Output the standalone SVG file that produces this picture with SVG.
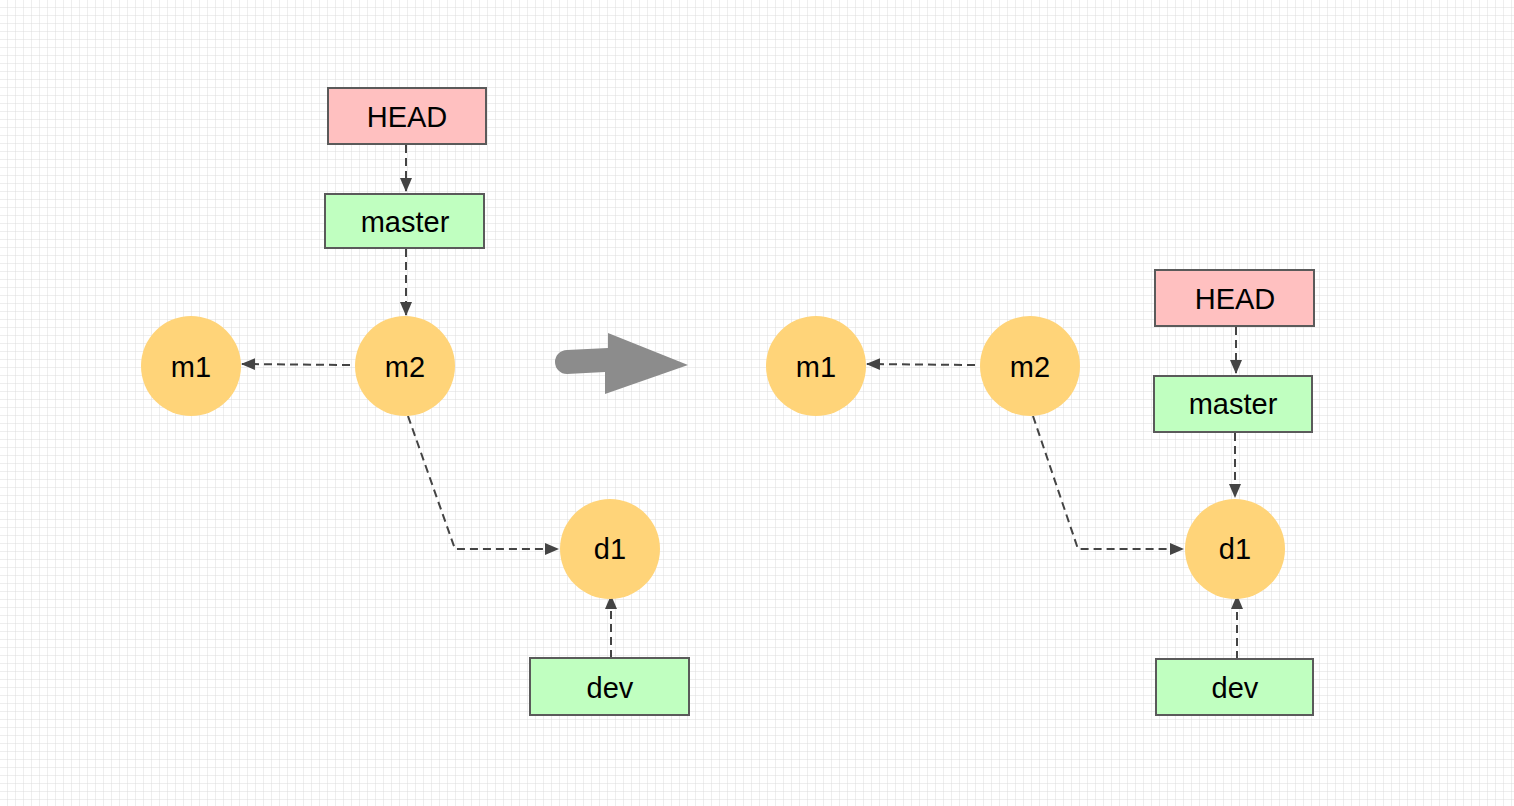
<svg xmlns="http://www.w3.org/2000/svg" width="1514" height="806" viewBox="0 0 1514 806">
<defs>
<pattern id="grid" width="8" height="8" patternUnits="userSpaceOnUse">
<path d="M8 0 V8 M0 8 H8" fill="none" stroke="#dcdcdc" stroke-width="1"/>
</pattern>
<marker id="ah" markerWidth="14" markerHeight="14" refX="13" refY="7" orient="auto" markerUnits="userSpaceOnUse" viewBox="0 0 14 14">
<path d="M0 1 L14 7 L0 13 Z" fill="#444"/>
</marker>
<style>
.c{fill:#ffd479;stroke:none}
.r{fill:#ffc0c0;stroke:#5a5a5a;stroke-width:2}
.g{fill:#c0ffc0;stroke:#5a5a5a;stroke-width:2}
.t{font-family:"Liberation Sans",Arial,sans-serif;font-size:29px;fill:#000;text-anchor:middle;dominant-baseline:central}
.e{fill:none;stroke:#444;stroke-width:2;stroke-dasharray:8 5;marker-end:url(#ah)}
</style>
</defs>
<rect width="1514" height="806" fill="#ffffff"/>
<rect width="1514" height="806" fill="url(#grid)"/>

<g id="connectors">
<path class="e" d="M406 145 V191"/>
<path class="e" d="M406 249 V315"/>
<path class="e" d="M350 365 L242 364"/>
<path class="e" d="M408 416 L455 549 H558"/>
<path class="e" d="M611 658 V596"/>
<path class="e" d="M975 365 L867 364"/>
<path class="e" d="M1033 416 L1078 549 H1183"/>
<path class="e" d="M1236 327 V373"/>
<path class="e" d="M1235 433 V497"/>
<path class="e" d="M1237 659 V596"/>
</g>

<g id="bigArrow">
<path d="M567 350 L608 348 V333 L688 365 L605 394 V372 L567 374 A12 12 0 0 1 567 350 Z" fill="#8c8c8c"/>
</g>

<g id="L-HEAD"><rect class="r" x="328" y="88" width="158" height="56"/><text class="t" x="407" y="117">HEAD</text></g>
<g id="L-master"><rect class="g" x="325" y="194" width="159" height="54"/><text class="t" x="405" y="222">master</text></g>
<g id="L-m1"><circle class="c" cx="191" cy="366" r="50"/><text class="t" x="191" y="367">m1</text></g>
<g id="L-m2"><circle class="c" cx="405" cy="366" r="50"/><text class="t" x="405" y="367">m2</text></g>
<g id="L-d1"><circle class="c" cx="610" cy="549" r="50"/><text class="t" x="610" y="549">d1</text></g>
<g id="L-dev"><rect class="g" x="530" y="658" width="159" height="57"/><text class="t" x="610" y="688">dev</text></g>

<g id="R-m1"><circle class="c" cx="816" cy="366" r="50"/><text class="t" x="816" y="367">m1</text></g>
<g id="R-m2"><circle class="c" cx="1030" cy="366" r="50"/><text class="t" x="1030" y="367">m2</text></g>
<g id="R-HEAD"><rect class="r" x="1155" y="270" width="159" height="56"/><text class="t" x="1235" y="299">HEAD</text></g>
<g id="R-master"><rect class="g" x="1154" y="376" width="158" height="56"/><text class="t" x="1233" y="404">master</text></g>
<g id="R-d1"><circle class="c" cx="1235" cy="549" r="50"/><text class="t" x="1235" y="549">d1</text></g>
<g id="R-dev"><rect class="g" x="1156" y="659" width="157" height="56"/><text class="t" x="1235" y="688">dev</text></g>
</svg>
